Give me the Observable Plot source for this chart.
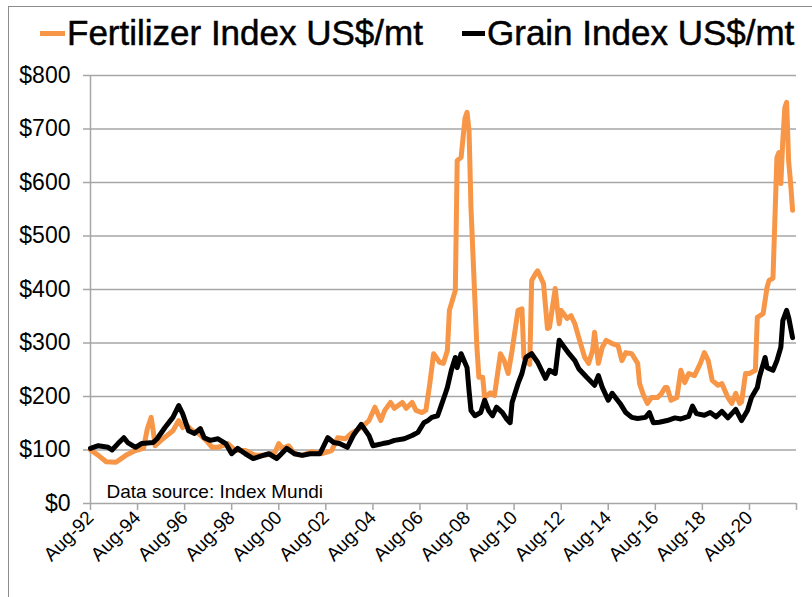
<!DOCTYPE html>
<html>
<head>
<meta charset="utf-8">
<script src="https://cdn.jsdelivr.net/npm/d3@7"></script>
<script src="https://cdn.jsdelivr.net/npm/@observablehq/plot@0.6"></script>
<style>
  html, body { margin: 0; padding: 0; background: #fff; }
  body { width: 812px; height: 597px; position: relative; overflow: hidden; font-family: "Liberation Sans", Arial, sans-serif; }
  #frame { position: absolute; left: 8px; top: 6px; right: -2px; bottom: -2px; border-left: 1px solid #8c8c8c; border-top: 1px solid #8c8c8c; pointer-events: none; }
  #legend { position: absolute; left: 0; top: 0; width: 812px; height: 60px; }
  .sw { position: absolute; top: 31px; height: 5px; }
  .lt { position: absolute; top: 15px; font-size: 35px; line-height: 35px; color: #000; white-space: nowrap; -webkit-text-stroke: 0.5px #000; }
  #chart { position: absolute; left: 0; top: 60px; }
</style>
</head>
<body>
<div id="legend"></div>
<div id="chart"></div>
<div id="frame"></div>
<script>
// ---- Data ----
const seriesNames = ["Fertilizer Index US$/mt", "Grain Index US$/mt"];
const seriesColors = ["#F79646", "#000000"];

const fertDates = ["1992-08","1992-12","1993-04","1993-09","1994-02","1994-07","1994-11","1995-01","1995-03","1995-04","1995-05","1995-08","1995-11","1996-02","1996-05","1996-07","1996-08","1996-12","1997-03","1997-07","1997-10","1998-01","1998-06","1998-10","1999-03","1999-08","2000-01","2000-06","2000-08","2000-10","2001-01","2001-04","2001-08","2002-01","2002-06","2002-11","2003-02","2003-06","2003-09","2004-02","2004-06","2004-09","2004-12","2005-02","2005-05","2005-07","2005-11","2006-01","2006-04","2006-06","2006-09","2006-11","2007-01","2007-03","2007-06","2007-08","2007-10","2007-11","2008-02","2008-03","2008-05","2008-07","2008-08","2008-09","2008-10","2009-01","2009-02","2009-04","2009-05","2009-08","2009-10","2010-01","2010-03","2010-05","2010-07","2010-10","2010-12","2011-01","2011-04","2011-05","2011-07","2011-08","2011-11","2012-01","2012-02","2012-05","2012-06","2012-07","2012-08","2012-11","2013-01","2013-03","2013-05","2013-08","2013-10","2013-12","2014-01","2014-03","2014-05","2014-07","2014-10","2015-01","2015-03","2015-05","2015-08","2015-11","2015-12","2016-02","2016-04","2016-06","2016-09","2016-11","2017-01","2017-02","2017-04","2017-07","2017-09","2017-11","2018-01","2018-04","2018-07","2018-09","2018-11","2019-01","2019-04","2019-06","2019-09","2019-11","2020-01","2020-03","2020-04","2020-06","2020-08","2020-11","2020-12","2021-03","2021-05","2021-06","2021-08","2021-10","2021-11","2021-12","2022-01","2022-02","2022-03","2022-04","2022-05","2022-06"];
const fertValues = [100,90,78,77,90,99,103,140,161,136,108,118,127,136,155,142,150,136,131,118,105,105,112,99,99,90,90,95,112,103,108,93,90,97,93,99,123,121,131,142,155,180,155,174,189,178,189,178,189,174,170,174,224,280,264,262,286,361,398,641,647,721,731,697,553,292,236,236,198,207,202,280,267,243,286,361,364,273,260,417,430,435,411,327,329,402,366,336,361,346,351,336,310,273,262,286,320,262,292,305,299,295,267,282,280,262,224,202,187,198,198,205,217,217,193,198,249,226,243,239,262,282,267,230,221,224,198,187,206,187,190,243,243,249,348,355,404,417,421,647,656,598,680,740,750,640,600,548];

const grainDates = ["1992-08","1992-12","1993-05","1993-07","1993-10","1994-01","1994-03","1994-07","1994-10","1995-04","1995-06","1995-10","1996-02","1996-05","1996-07","1996-10","1997-01","1997-04","1997-06","1997-09","1998-01","1998-05","1998-08","1998-11","1999-03","1999-07","1999-12","2000-03","2000-07","2000-12","2001-04","2001-08","2001-12","2002-05","2002-09","2002-12","2003-03","2003-07","2003-10","2004-02","2004-06","2004-08","2005-01","2005-04","2005-07","2005-12","2006-04","2006-07","2006-10","2006-12","2007-02","2007-05","2007-06","2007-09","2007-10","2007-12","2008-02","2008-03","2008-05","2008-08","2008-09","2008-10","2008-12","2009-03","2009-05","2009-07","2009-09","2009-11","2010-02","2010-04","2010-06","2010-07","2010-10","2010-12","2011-02","2011-05","2011-08","2011-12","2012-02","2012-05","2012-07","2012-09","2012-12","2013-03","2013-05","2013-09","2014-01","2014-03","2014-05","2014-08","2014-10","2015-02","2015-05","2015-08","2015-11","2016-03","2016-05","2016-07","2016-10","2017-02","2017-06","2017-09","2018-01","2018-03","2018-05","2018-09","2018-12","2019-03","2019-06","2019-09","2020-01","2020-04","2020-07","2020-09","2020-12","2021-01","2021-04","2021-05","2021-08","2021-10","2021-12","2022-01","2022-03","2022-04","2022-06"];
const grainValues = [103,108,105,100,112,123,114,105,112,114,121,142,161,183,168,136,131,140,123,118,121,112,93,103,93,84,90,93,84,103,93,90,93,93,123,114,112,105,127,148,127,108,112,114,118,121,127,133,151,155,161,164,174,206,217,249,273,254,280,254,211,174,164,170,193,174,164,180,170,159,151,189,224,243,273,280,264,234,249,243,305,295,280,267,252,236,221,239,217,193,206,187,170,161,159,161,170,151,152,155,160,158,163,182,168,165,170,162,172,160,176,155,174,198,217,236,273,254,249,267,292,342,361,348,310];

const xTickDates = ["1992-08","1994-08","1996-08","1998-08","2000-08","2002-08","2004-08","2006-08","2008-08","2010-08","2012-08","2014-08","2016-08","2018-08","2020-08","2022-08"];
const xTickLabels = ["Aug-92","Aug-94","Aug-96","Aug-98","Aug-00","Aug-02","Aug-04","Aug-06","Aug-08","Aug-10","Aug-12","Aug-14","Aug-16","Aug-18","Aug-20",""];
const yTicks = [0,100,200,300,400,500,600,700,800];
const sourceNote = "Data source: Index Mundi";

// ---- Build ----
const parse = s => { const [y, m] = s.split("-").map(Number); return new Date(Date.UTC(y, m - 1, 1)); };
const fert = fertDates.map((d, i) => ({date: parse(d), value: fertValues[i]}));
const grain = grainDates.map((d, i) => ({date: parse(d), value: grainValues[i]}));
const xTicks = xTickDates.map(parse);

// Legend
const legend = document.getElementById("legend");
const legendPos = [{sw: 40, sww: 25, tx: 67}, {sw: 462, sww: 23, tx: 487}];
seriesNames.forEach((name, i) => {
  const sw = document.createElement("div");
  sw.className = "sw";
  sw.style.left = legendPos[i].sw + "px";
  sw.style.width = legendPos[i].sww + "px";
  sw.style.background = seriesColors[i];
  legend.appendChild(sw);
  const t = document.createElement("div");
  t.className = "lt";
  t.style.left = legendPos[i].tx + "px";
  t.textContent = name;
  legend.appendChild(t);
});

const gridColor = "#a6a6a6";
const chart = Plot.plot({
  width: 812,
  height: 537,
  marginTop: 15,
  marginBottom: 94,
  marginLeft: 90,
  marginRight: 16,
  style: {fontFamily: '"Liberation Sans", Arial, sans-serif', color: "#000", background: "transparent"},
  x: {type: "utc", domain: [xTicks[0], xTicks[xTicks.length - 1]]},
  y: {domain: [0, 800]},
  marks: [
    Plot.gridY(yTicks.filter(d => d > 0), {stroke: gridColor, strokeOpacity: 1, strokeWidth: 1.5}),
    Plot.ruleY([0], {stroke: gridColor, strokeWidth: 1.5}),
    Plot.ruleX([xTicks[0]], {y1: 0, y2: 800, stroke: gridColor, strokeWidth: 1.5}),
    Plot.axisY({ticks: yTicks, tickFormat: d => "$" + d, tickSize: 7, tickPadding: 13, fontSize: 23, stroke: gridColor, strokeWidth: 1.5, label: null}),
    Plot.axisX({ticks: xTicks, tickFormat: (d, i) => xTickLabels[i], tickRotate: -45, tickSize: 7, tickPadding: 4, fontSize: 19, stroke: gridColor, strokeWidth: 1.5, label: null}),
    Plot.text([sourceNote], {frameAnchor: "bottom-left", dx: 16, dy: -6, textAnchor: "start", lineAnchor: "bottom", fontSize: 19, fill: "#000"}),
    Plot.line(fert, {x: "date", y: "value", stroke: seriesColors[0], strokeWidth: 5, strokeLinejoin: "round", strokeLinecap: "round"}),
    Plot.line(grain, {x: "date", y: "value", stroke: seriesColors[1], strokeWidth: 5, strokeLinejoin: "round", strokeLinecap: "round"})
  ]
});
document.getElementById("chart").appendChild(chart);
</script>
</body>
</html>
